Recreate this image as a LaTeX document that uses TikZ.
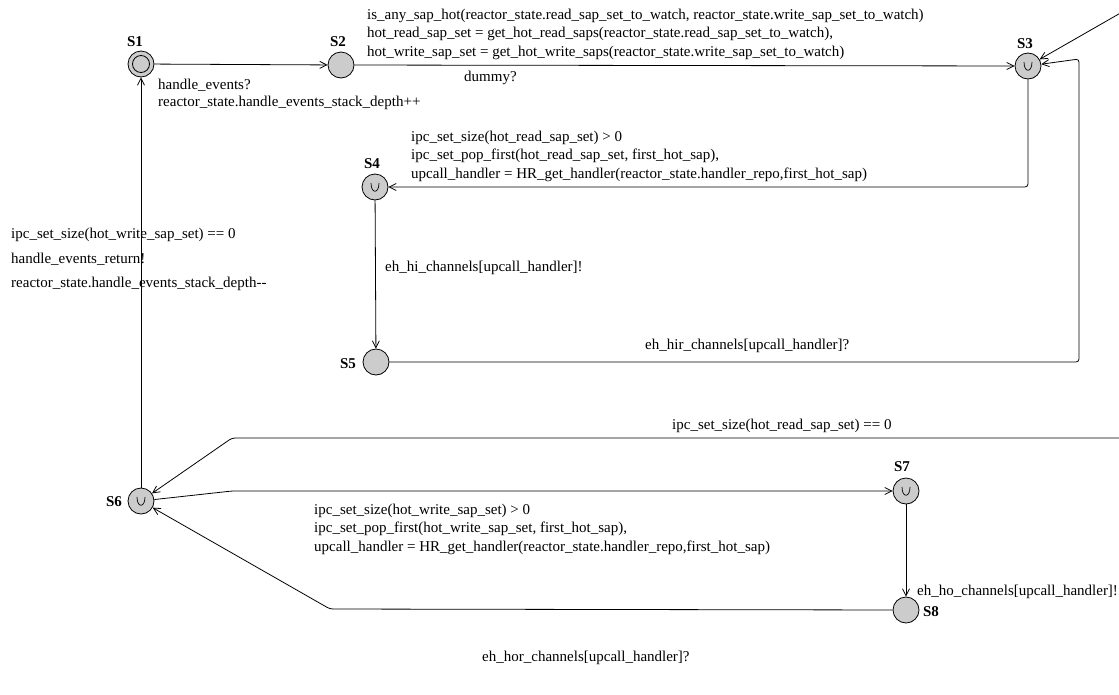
\documentclass[tikz,border=0pt]{standalone}
\usepackage{fontspec}
\setmainfont{Liberation Serif}
\usetikzlibrary{arrows.meta}
\begin{document}
\begin{tikzpicture}[x=1pt,y=-1pt,
  state/.style={circle, draw, fill=gray!40, minimum size=26pt, inner sep=0pt, line width=0.8pt},
  initstate/.style={path picture={\draw[line width=0.8pt] (path picture bounding box.center) circle[radius=8.5pt];}},
  urgent/.style={path picture={\draw[line width=0.7pt] (path picture bounding box.center) ++(-4,-4) .. controls +(0,11) and +(0,11) .. ++(8,0);}},
  lbl/.style={inner sep=0pt, anchor=base west, font=\fontsize{15}{18}\selectfont},
  sname/.style={inner sep=0pt, font=\fontsize{15}{18}\selectfont\bfseries},
  edge/.style={draw, line width=0.8pt, rounded corners=3pt, -{Straight Barb[length=7pt,width=7pt]}},
]
\fill[white] (0,0) rectangle (1119,694);
\useasboundingbox (0,0) rectangle (1119,694);

% locations
\node[state, initstate] (S1) at (141,64) {};
\node[state] (S2) at (341,65) {};
\node[state, urgent] (S3) at (1028,66) {};
\node[state, urgent] (S4) at (375,187) {};
\node[state] (S5) at (376,362) {};
\node[state, urgent] (S6) at (141,501) {};
\node[state, urgent] (S7) at (906,491) {};
\node[state] (S8) at (906,610) {};

% location names
\node[sname] (nS1) at (135,42) {S1};
\node[sname] (nS2) at (338,42) {S2};
\node[sname] (nS3) at (1025,44) {S3};
\node[sname] (nS4) at (372,164) {S4};
\node[sname] (nS5) at (348,364) {S5};
\node[sname] (nS6) at (114,502) {S6};
\node[sname] (nS7) at (902,467) {S7};
\node[sname] (nS8) at (931,612) {S8};

% bend points
\coordinate (in3) at (1124,11);
\coordinate (c53a) at (1079,362);
\coordinate (c53b) at (1079,59);
\coordinate (in6) at (1124,438);
\coordinate (k6) at (232,438);
\coordinate (k67) at (232,491);
\coordinate (k86) at (330,609);

% transitions
\draw[edge] (S1) -- (S2);
\draw[edge] (S2) -- (S3);
\draw[edge] (in3) -- (S3);
\draw[edge] (S3) |- (S4);
\draw[edge] (S4) -- (S5);
\draw[edge] (S5) -- (c53a) -- (c53b) -- (S3);
\draw[edge] (S6) -- (S1);
\draw[edge] (in6) -- (k6) -- (S6);
\draw[edge] (S6) -- (k67) -- (S7);
\draw[edge] (S7) -- (S8);
\draw[edge] (S8) -- (k86) -- (S6);

% guards, syncs and updates
\node[lbl] (t1) at (158,89) {handle\_events?};
\node[lbl] (t2) at (158,106) {reactor\_state.handle\_events\_stack\_depth++};
\node[lbl] (t3) at (367,19) {is\_any\_sap\_hot(reactor\_state.read\_sap\_set\_to\_watch, reactor\_state.write\_sap\_set\_to\_watch)};
\node[lbl] (t4) at (367,37) {hot\_read\_sap\_set = get\_hot\_read\_saps(reactor\_state.read\_sap\_set\_to\_watch),};
\node[lbl] (t5) at (367,56) {hot\_write\_sap\_set = get\_hot\_write\_saps(reactor\_state.write\_sap\_set\_to\_watch)};
\node[lbl] (t6) at (464,81) {dummy?};
\node[lbl] (t7) at (411,141) {ipc\_set\_size(hot\_read\_sap\_set) > 0};
\node[lbl] (t8) at (411,159) {ipc\_set\_pop\_first(hot\_read\_sap\_set, first\_hot\_sap),};
\node[lbl] (t9) at (411,178) {upcall\_handler = HR\_get\_handler(reactor\_state.handler\_repo,first\_hot\_sap)};
\node[lbl] (t10) at (11,238) {ipc\_set\_size(hot\_write\_sap\_set) == 0};
\node[lbl] (t11) at (11,263) {handle\_events\_return!};
\node[lbl] (t12) at (11,287) {reactor\_state.handle\_events\_stack\_depth-{}-};
\node[lbl] (t13) at (385,271) {eh\_hi\_channels[upcall\_handler]!};
\node[lbl] (t14) at (645,349) {eh\_hir\_channels[upcall\_handler]?};
\node[lbl] (t15) at (672,429) {ipc\_set\_size(hot\_read\_sap\_set) == 0};
\node[lbl] (t16) at (314,514) {ipc\_set\_size(hot\_write\_sap\_set) > 0};
\node[lbl] (t17) at (314,532) {ipc\_set\_pop\_first(hot\_write\_sap\_set, first\_hot\_sap),};
\node[lbl] (t18) at (314,551) {upcall\_handler = HR\_get\_handler(reactor\_state.handler\_repo,first\_hot\_sap)};
\node[lbl] (t19) at (917,595) {eh\_ho\_channels[upcall\_handler]!};
\node[lbl] (t20) at (482,661) {eh\_hor\_channels[upcall\_handler]?};
\end{tikzpicture}
\end{document}
